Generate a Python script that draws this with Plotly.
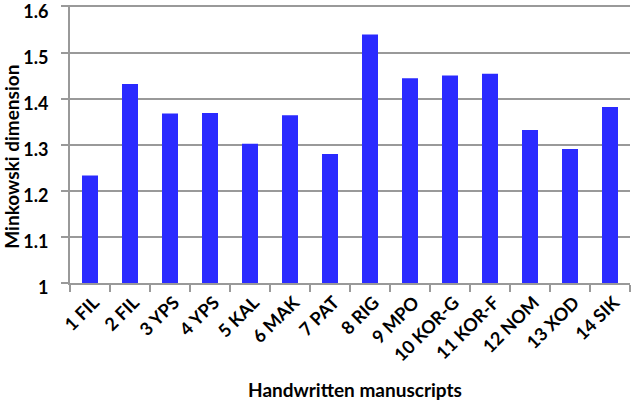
import plotly.graph_objects as go

categories = ["1 FIL", "2 FIL", "3 YPS", "4 YPS", "5 KAL", "6 MAK", "7 PAT",
              "8 RIG", "9 MPO", "10 KOR-G", "11 KOR-F", "12 NOM", "13 XOD", "14 SIK"]
values = [1.233, 1.432, 1.368, 1.369, 1.302, 1.364, 1.280,
          1.539, 1.444, 1.450, 1.454, 1.332, 1.291, 1.382]
y_ticks = [1.0, 1.1, 1.2, 1.3, 1.4, 1.5, 1.6]
y_tick_labels = ["1", "1.1", "1.2", "1.3", "1.4", "1.5", "1.6"]

FONT = "Lato"
fig = go.Figure(go.Bar(x=categories, y=values, marker=dict(color="#2A2AFF", line=dict(width=0))))

fig.update_layout(
    width=632, height=402,
    margin=dict(l=70, r=2, t=5, b=118.5),
    paper_bgcolor="white", plot_bgcolor="white",
    bargap=0.6,
    showlegend=False,
    font=dict(family=FONT, color="black"),
)
fig.update_xaxes(
    automargin=False,
    tickangle=-45, tickfont=dict(family=FONT, size=18, color="black", weight="bold"),
    showline=True, linecolor="#999999", linewidth=2,
    ticks="outside", tickson="boundaries", ticklen=7, tickcolor="#999999", tickwidth=2,
    showgrid=False, ticklabeloverflow="allow", ticklabelshift=4,
)
fig.update_yaxes(
    automargin=False,
    range=[1.0, 1.6032], tickvals=y_ticks, ticktext=y_tick_labels,
    tickfont=dict(family=FONT, size=18, color="black", weight="bold"),
    showgrid=True, gridcolor="#999999", gridwidth=2,
    showline=True, linecolor="#999999", linewidth=2,
    ticks="outside", ticklen=7, tickcolor="#999999", tickwidth=2,
    zeroline=False, ticklabeloverflow="allow", ticklabelshift=5, ticklabelstandoff=9,
)
fig.add_annotation(text="Minkowski dimension", xref="paper", yref="paper",
                   x=-0.105, y=0.455, xanchor="center", yanchor="middle", textangle=-90,
                   showarrow=False, font=dict(family=FONT, size=19, color="black", weight="bold"))
fig.add_annotation(text="Handwritten manuscripts", xref="paper", yref="paper",
                   x=0.509, y=-0.3824, xanchor="center", yanchor="middle",
                   showarrow=False, font=dict(family=FONT, size=19, color="black", weight="bold"))

fig.write_html("out.html", config={"displayModeBar": False},
               post_script="document.body.style.margin='0';")
